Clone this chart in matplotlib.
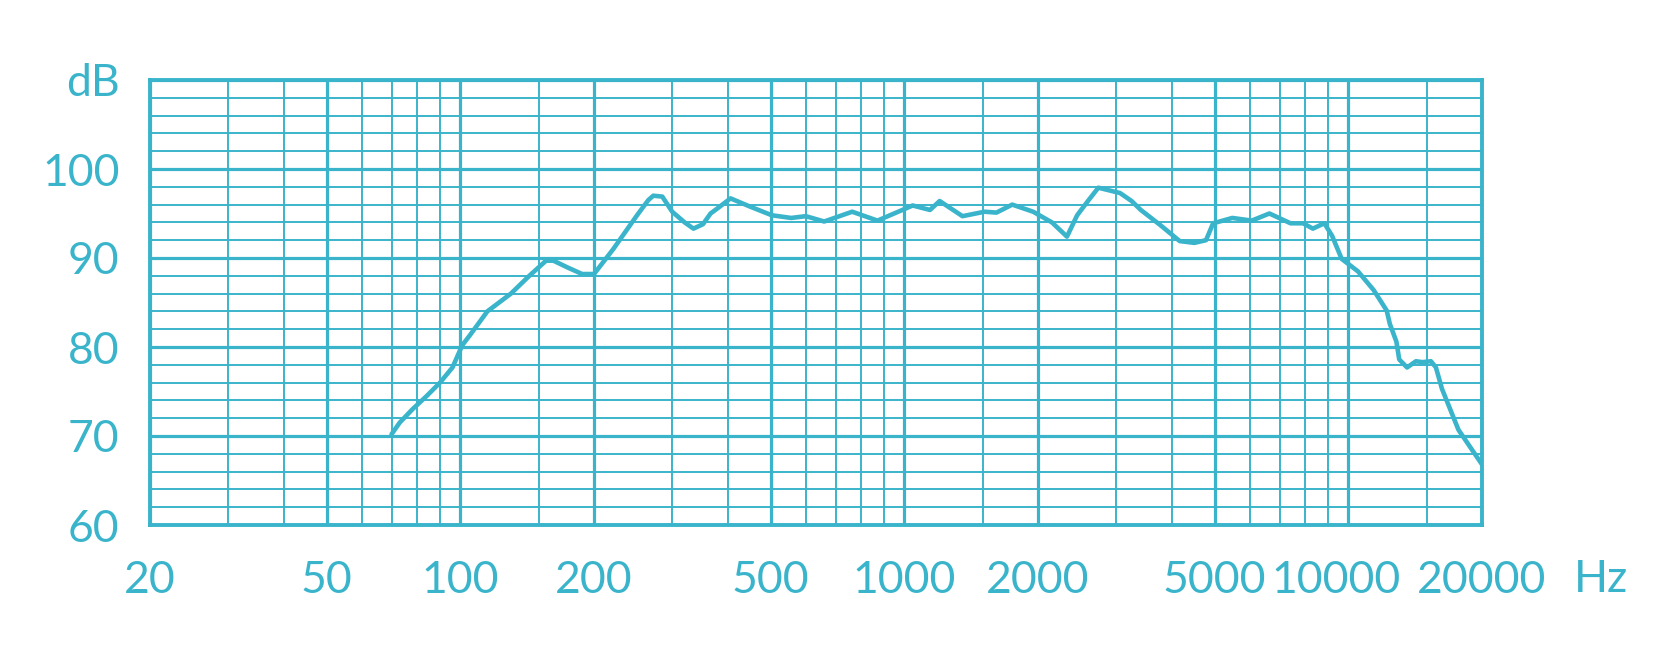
import matplotlib
matplotlib.use('Agg')
import matplotlib.pyplot as plt
import matplotlib.transforms as mtransforms

# Frequency response (Hz, dB)
freq = [70, 73, 78, 84, 90, 96, 101, 105, 115, 130, 143, 156, 162, 175, 188,
        200, 221, 250, 265, 272, 285, 300, 320, 335, 352, 366, 380, 406, 448,
        503, 556, 600, 660, 763, 870, 990, 1044, 1142, 1201, 1352, 1517, 1612,
        1750, 1950, 2150, 2324, 2450, 2600, 2735, 3060, 3250, 3408, 3771,
        4170, 4500, 4780, 4960, 5480, 6060, 6640, 7410, 7910, 8320, 8830,
        9190, 9660, 10510, 11400, 12200, 12400, 12830, 13020, 13560, 14200,
        14670, 15350, 15750, 16250, 17700, 20000]
level = [70.2, 71.5, 73.0, 74.5, 76.0, 77.7, 80.2, 81.3, 84.0, 86.0, 88.0,
         89.7, 89.7, 88.9, 88.2, 88.2, 91.0, 94.8, 96.5, 97.0, 96.9, 95.2,
         94.0, 93.3, 93.8, 95.0, 95.6, 96.7, 95.8, 94.8, 94.5, 94.7, 94.1,
         95.2, 94.2, 95.4, 95.9, 95.4, 96.4, 94.7, 95.2, 95.1, 96.0, 95.2,
         94.0, 92.4, 94.8, 96.5, 97.9, 97.3, 96.4, 95.4, 93.7, 91.9, 91.7,
         92.0, 93.9, 94.5, 94.2, 95.0, 93.9, 93.9, 93.3, 93.9, 92.5, 89.9,
         88.5, 86.4, 84.1, 82.6, 80.6, 78.6, 77.7, 78.4, 78.3, 78.4, 77.7,
         75.3, 70.7, 66.8]

# grid of the chart paper
x_major = [20, 50, 100, 200, 500, 1000, 2000, 5000, 10000, 20000]
x_labels = ['20', '50', '100', '200', '500', '1000', '2000', '5000', '10000', '20000']
x_minor = [30, 40, 60, 70, 80, 90, 150, 300, 400, 600, 700, 800, 900, 1500,
           3000, 4000, 6000, 7000, 8000, 9000, 15000]
y_major = [60, 70, 80, 90, 100, 110]
y_labels = ['60', '70', '80', '90', '100', 'dB']
y_minor = [v for v in range(62, 110, 2) if v % 10 != 0]

ink = '#3ab4cb'
font = ['Lato', 'DejaVu Sans']
fsize = 32

fig = plt.figure(figsize=(16.69, 6.61), dpi=100)
ax = fig.add_axes([150 / 1669, 1 - 525 / 661, (1482 - 150) / 1669, (525 - 80) / 661])

ax.set_xscale('log')
ax.set_xlim(20, 20000)
ax.set_ylim(60, 110)

for v in x_major:
    ax.axvline(v, color=ink, lw=2.3, zorder=1)
for v in x_minor:
    ax.axvline(v, color=ink, lw=1.4, zorder=1)
for v in y_major:
    ax.axhline(v, color=ink, lw=2.3, zorder=1)
for v in y_minor:
    ax.axhline(v, color=ink, lw=1.4, zorder=1)

ax.plot(freq, level, color=ink, lw=3.3, solid_joinstyle='round',
        solid_capstyle='round', zorder=3)

ax.set_xticks(x_major)
ax.set_xticklabels(x_labels)
ax.set_xticks([], minor=True)
ax.set_yticks(y_major)
ax.set_yticklabels(y_labels)
ax.set_yticks([], minor=True)
ax.tick_params(axis='x', length=0, pad=25, labelsize=fsize, labelcolor=ink)
ax.tick_params(axis='y', length=0, pad=22, labelsize=fsize, labelcolor=ink)
for t in ax.get_xticklabels() + ax.get_yticklabels():
    t.set_family(font)

# on the print "10000" sits a little left of its line
nudge = mtransforms.ScaledTranslation(-12 / 100, 0, fig.dpi_scale_trans)
lab = ax.get_xticklabels()[x_labels.index('10000')]
lab.set_transform(lab.get_transform() + nudge)

for s in ax.spines.values():
    s.set_color(ink)
    s.set_linewidth(2.8)

fig.text(1574 / 1669, 1 - 580 / 661, 'Hz', color=ink, fontsize=fsize,
         family=font, ha='left', va='center')

fig.savefig('out.png', dpi=100, facecolor='white')
